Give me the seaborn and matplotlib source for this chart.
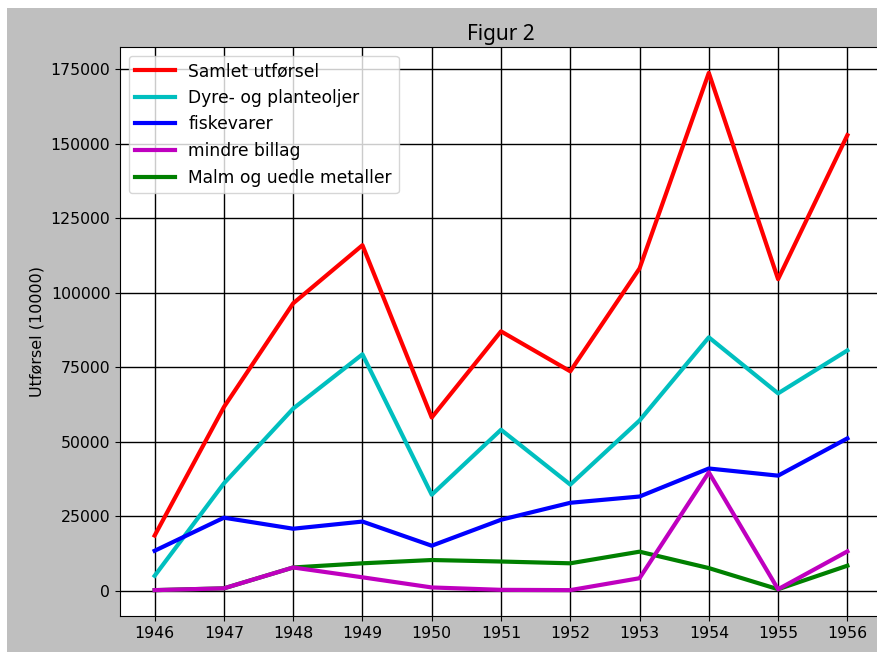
import matplotlib
matplotlib.use("Agg")
import matplotlib.pyplot as plt
import seaborn as sns
from matplotlib.patches import Rectangle

# data
years = [1946, 1947, 1948, 1949, 1950, 1951, 1952, 1953, 1954, 1955, 1956]
samlet = [18500, 61600, 96400, 115900, 58100, 87000, 73600, 108100, 173700, 104500, 152800]
dyre = [5000, 36000, 61100, 79300, 32200, 54000, 35600, 57100, 85000, 66200, 80600]
fisk = [13400, 24500, 20800, 23200, 15100, 23800, 29500, 31600, 41000, 38600, 51100]
billag = [200, 800, 7800, 4500, 1100, 300, 200, 4200, 39700, 500, 13200]
malm = [200, 800, 7800, 9200, 10300, 9800, 9200, 13100, 7600, 500, 8400]

labels = ["Samlet utførsel", "Dyre- og planteoljer", "fiskevarer",
          "mindre billag", "Malm og uedle metaller"]

# figure: white frame with a grey panel, axes runs off the right edge
fig = plt.figure(figsize=(8.78, 6.52), dpi=100, facecolor="white")
fig.patches.append(Rectangle((7 / 878, 0), 1, 644 / 652, transform=fig.transFigure,
                             facecolor="#bfbfbf", edgecolor="none", zorder=-10))
ax = fig.add_axes([120 / 878, 36 / 652, 762 / 878, 569 / 652])

sns.lineplot(x=years, y=samlet, color="red", linewidth=3, label=labels[0], ax=ax)
sns.lineplot(x=years, y=dyre, color="c", linewidth=3, label=labels[1], ax=ax)
sns.lineplot(x=years, y=fisk, color="blue", linewidth=3, label=labels[2], ax=ax)
sns.lineplot(x=years, y=malm, color="green", linewidth=3, label=labels[4], ax=ax)
sns.lineplot(x=years, y=billag, color="m", linewidth=3, label=labels[3], ax=ax)

ax.set_xticks(years)
ax.tick_params(labelsize=11.3)
ax.grid(True, color="black", linewidth=1)
ax.set_axisbelow(True)
ax.set_ylabel("Utførsel (10000)", fontsize=11.5)
ax.set_title("Figur 2", fontsize=15, family="Noto Sans", pad=5)

# legend in the original order
handles, labs = ax.get_legend_handles_labels()
order = [labs.index(l) for l in labels]
ax.legend([handles[i] for i in order], [labs[i] for i in order], loc="upper left",
          fontsize=12.3, handlelength=2.3)

fig.savefig("out.png", dpi=100, facecolor=fig.get_facecolor())
